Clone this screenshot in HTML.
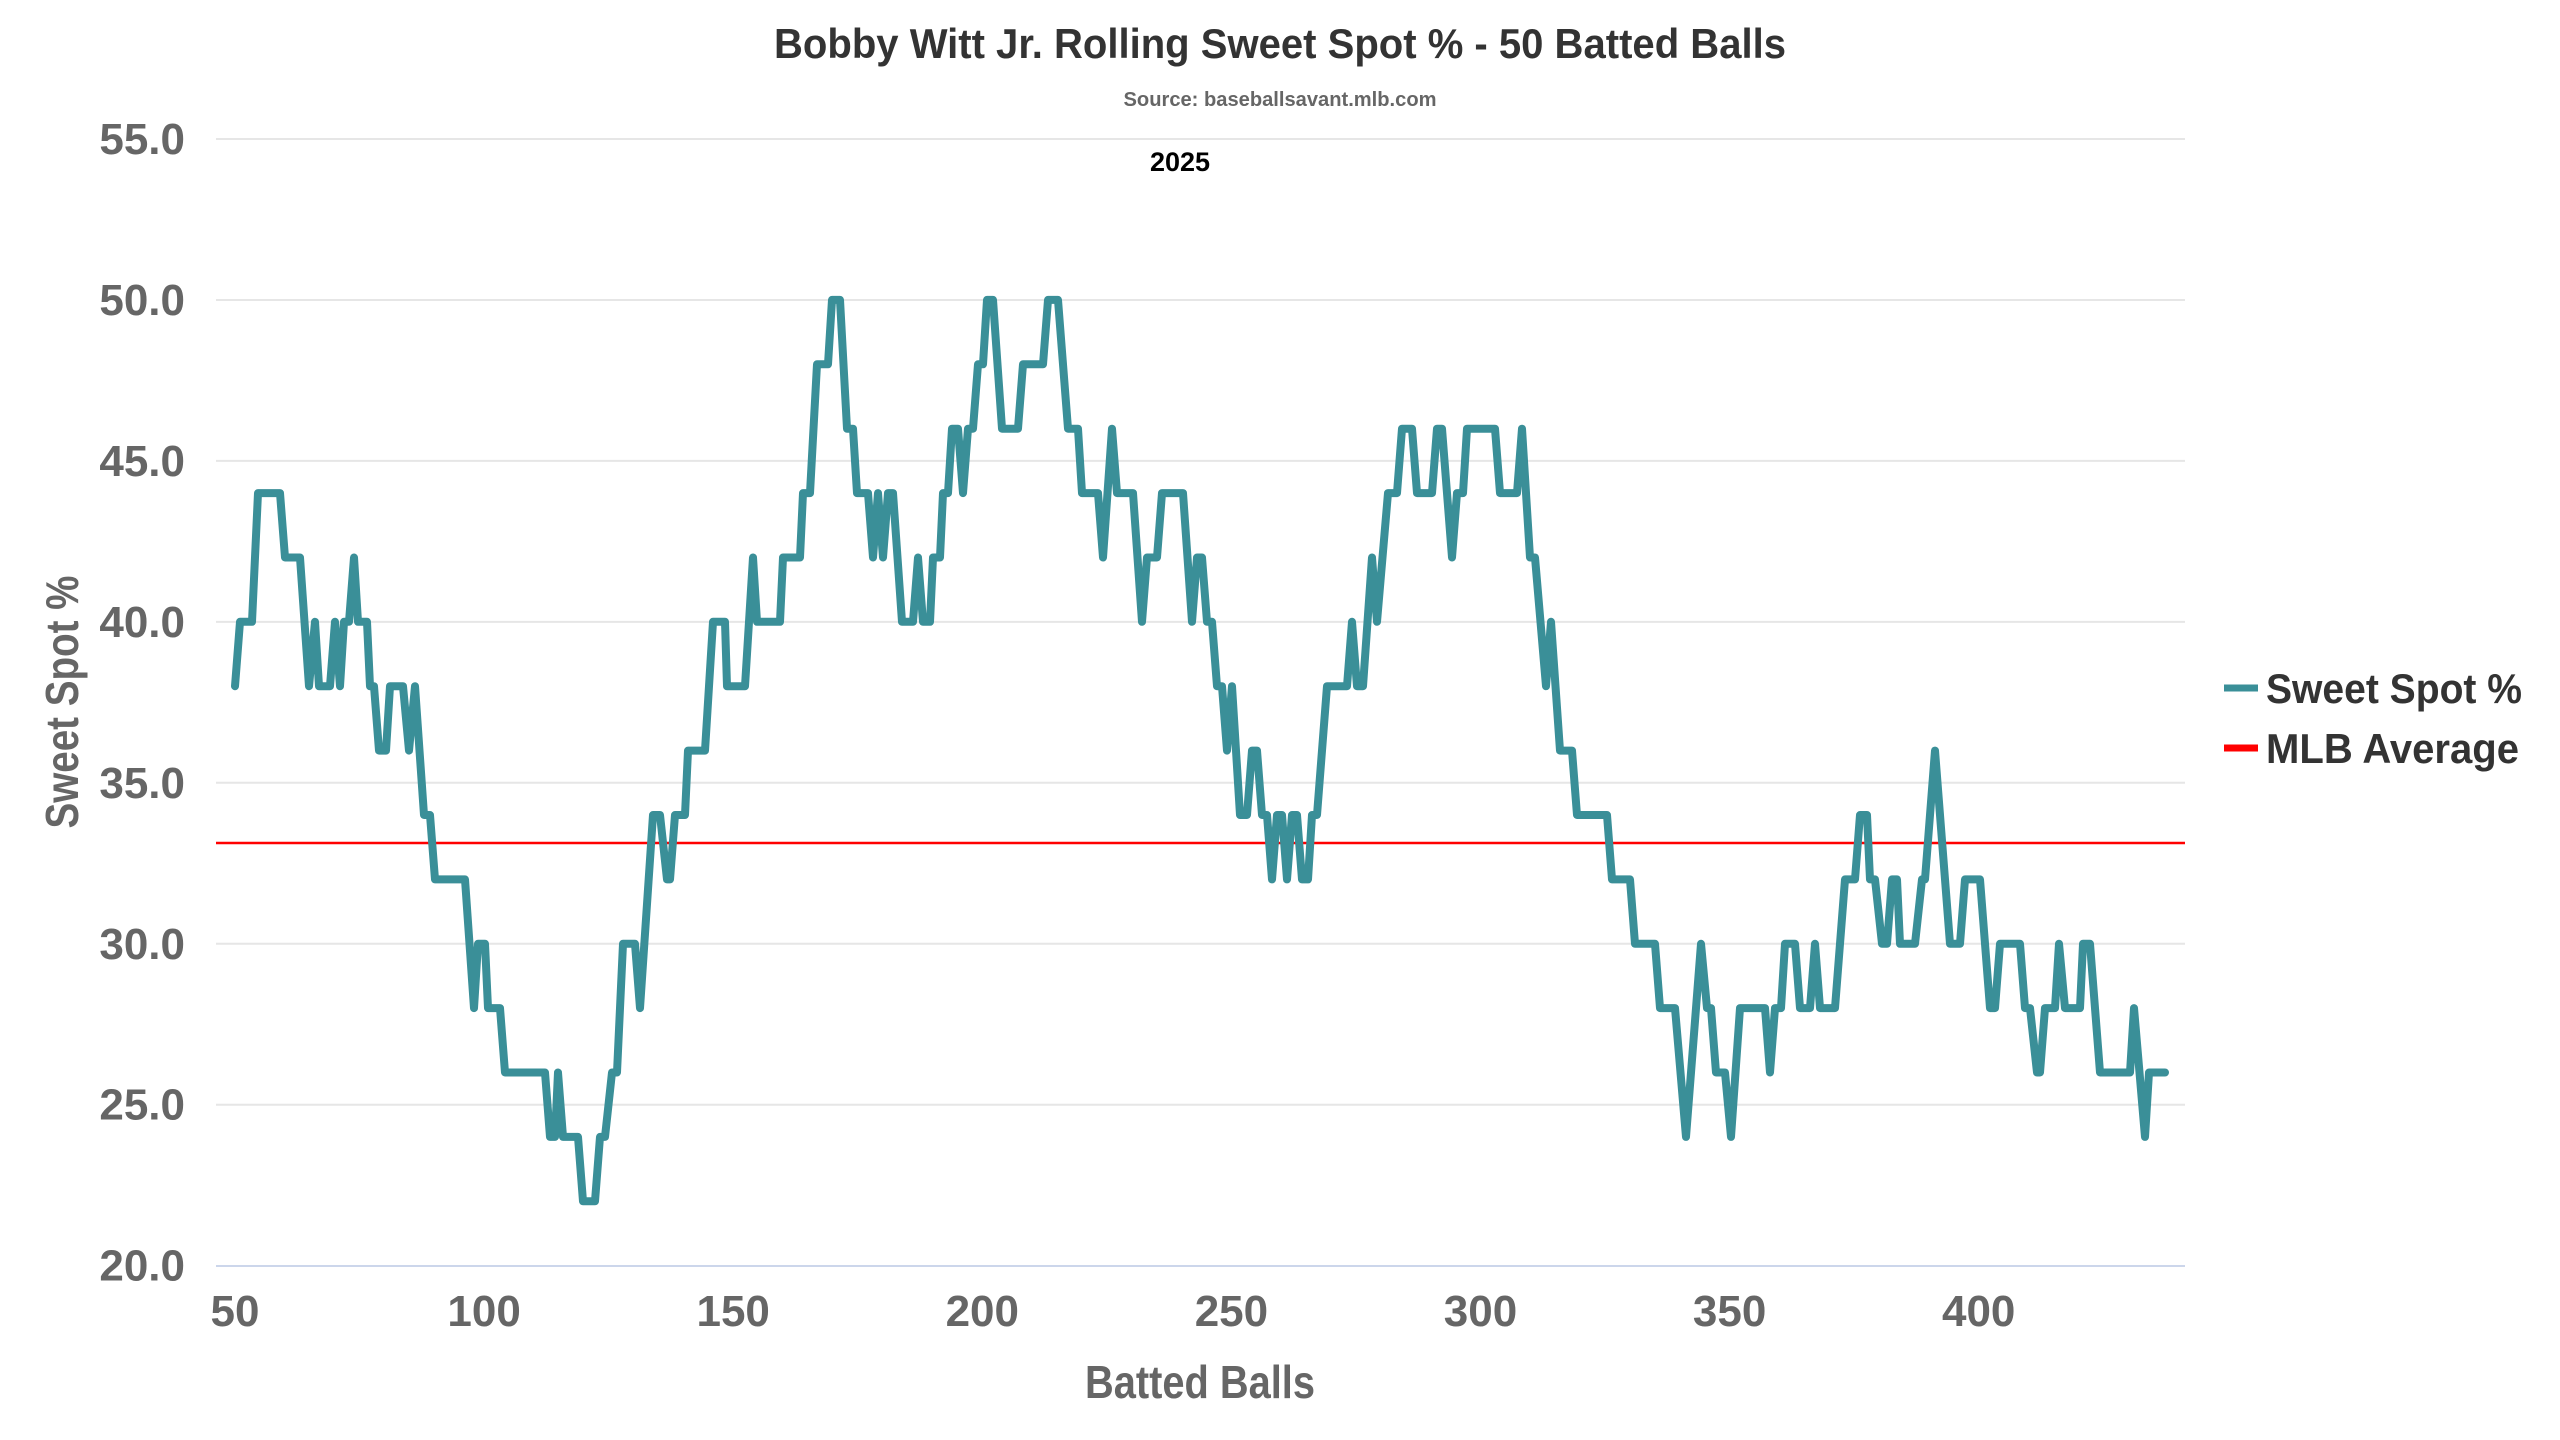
<!DOCTYPE html>
<html><head><meta charset="utf-8">
<style>
html,body{margin:0;padding:0;background:#fff;}
svg{display:block;}
text{font-family:"Liberation Sans Narrow","Liberation Sans",sans-serif;font-weight:bold;}
</style></head>
<body>
<svg id="c" width="2560" height="1440" viewBox="0 0 2560 1440" xmlns="http://www.w3.org/2000/svg">
<rect width="2560" height="1440" fill="#fff"/>
<g id="grid" stroke="#e6e6e6" stroke-width="2"></g>
<line x1="216" y1="1266" x2="2185" y2="1266" stroke="#ccd6eb" stroke-width="2"/>
<g id="yl" fill="#666" font-size="44" text-anchor="end"></g>
<g id="xl" fill="#666" font-size="44" text-anchor="middle"></g>
<line x1="216" y1="843" x2="2185" y2="843" stroke="#ff0000" stroke-width="2.5"/>
<path id="ln" fill="none" stroke="#3a8f98" stroke-width="8" stroke-linejoin="round" stroke-linecap="round"/>
<text x="1280" y="58" font-size="42" fill="#333" text-anchor="middle" textLength="1012" lengthAdjust="spacingAndGlyphs">Bobby Witt Jr. Rolling Sweet Spot % - 50 Batted Balls</text>
<text x="1280" y="106" font-size="20" fill="#666" text-anchor="middle" textLength="313" lengthAdjust="spacingAndGlyphs">Source: baseballsavant.mlb.com</text>
<text x="1180" y="171" font-size="27" fill="#000" text-anchor="middle">2025</text>
<text x="1200" y="1398" font-size="46" fill="#666" text-anchor="middle" textLength="230" lengthAdjust="spacingAndGlyphs">Batted Balls</text>
<text x="0" y="0" font-size="46" fill="#666" text-anchor="middle" transform="translate(78,702) rotate(-90)" textLength="253" lengthAdjust="spacingAndGlyphs">Sweet Spot %</text>
<line x1="2224" y1="688" x2="2258" y2="688" stroke="#3a8f98" stroke-width="7"/>
<text x="2266" y="703" font-size="42" fill="#333" textLength="256" lengthAdjust="spacingAndGlyphs">Sweet Spot %</text>
<line x1="2224" y1="748" x2="2258" y2="748" stroke="#ff0000" stroke-width="7"/>
<text x="2266" y="763" font-size="42" fill="#333" textLength="253" lengthAdjust="spacingAndGlyphs">MLB Average</text>
</svg>
<script>
var NS="http://www.w3.org/2000/svg";
function Y(v){return 139+(55-v)*32.19;}
var g=document.getElementById('grid'),yl=document.getElementById('yl'),xl=document.getElementById('xl');
for(var v=25;v<=55;v+=5){var l=document.createElementNS(NS,'line');l.setAttribute('x1',216);l.setAttribute('x2',2185);l.setAttribute('y1',Y(v));l.setAttribute('y2',Y(v));g.appendChild(l);}
for(var v=20;v<=55;v+=5){var t=document.createElementNS(NS,'text');t.setAttribute('x',185);t.setAttribute('y',Y(v)+15);t.textContent=v.toFixed(1);yl.appendChild(t);}
for(var b=50;b<=400;b+=50){var t=document.createElementNS(NS,'text');t.setAttribute('x',235+(b-50)*4.982);t.setAttribute('y',1326);t.textContent=b;xl.appendChild(t);}
var P=[[235,38],[240,40],[252,40],[258,44],[280,44],[285,42],[300,42],[309,38],[315,40],[319,38],[330,38],[335,40],[340,38],[344,40],[349,40],[354,42],[358,40],[367,40],[370,38],[374,38],[379,36],[386,36],[390,38],[403,38],[409,36],[415,38],[424,34],[430,34],[435,32],[465,32],[474,28],[478,30],[485,30],[488,28],[500,28],[505,26],[545,26],[550,24],[555,24],[558,26],[563,24],[578,24],[583,22],[595,22],[600,24],[605,24],[612,26],[617,26],[623,30],[635,30],[640,28],
[653,34],[660,34],[667,32],[670,32],[675,34],[685,34],[688,36],[705,36],[713,40],[725,40],[727,38],[745,38],[753,42],[757,40],[780,40],[783,42],[800,42],[803,44],[810,44],[817,48],[828,48],[832,50],[840,50],[847,46],[853,46],[857,44],[868,44],[873,42],[878,44],[883,42],[888,44],[893,44],[902,40],[913,40],[918,42],[923,40],[930,40],[933,42],[940,42],[943,44],[948,44],[952,46],[958,46],[963,44],[968,46],[973,46],[978,48],[983,48],[987,50],[993,50],[1002,46],[1018,46],[1023,48],[1040,48],
[1043,48],[1048,50],[1058,50],[1068,46],[1078,46],[1082,44],[1098,44],[1103,42],[1112,46],[1117,44],[1133,44],[1142,40],[1147,42],[1157,42],[1162,44],[1183,44],[1192,40],[1197,42],[1202,42],[1207,40],[1212,40],[1217,38],[1222,38],[1227,36],[1232,38],[1240,34],[1247,34],[1252,36],[1257,36],[1262,34],[1267,34],[1272,32],[1277,34],[1282,34],[1287,32],[1292,34],[1297,34],[1302,32],[1308,32],[1312,34],[1317,34],[1327,38],[1347,38],[1352,40],[1357,38],[1363,38],[1372,42],[1377,40],[1388,44],[1397,44],[1402,46],[1412,46],[1417,44],[1432,44],[1437,46],[1442,46],[1452,42],[1457,44],
[1463,44],[1467,46],[1495,46],[1500,44],[1517,44],[1522,46],[1530,42],[1535,42],[1546,38],[1551,40],[1560,36],[1572,36],[1577,34],[1607,34],[1612,32],[1630,32],[1635,30],[1655,30],[1660,28],[1675,28],[1686,24],[1701,30],[1707,28],[1711,28],[1716,26],[1725,26],[1731,24],[1740,28],[1765,28],[1770,26],[1775,28],[1781,28],[1785,30],[1795,30],
[1800,28],[1810,28],[1815,30],[1820,28],[1835,28],[1845,32],[1855,32],[1860,34],[1867,34],[1870,32],[1875,32],[1882,30],[1887,30],[1892,32],[1897,32],[1900,30],[1915,30],[1922,32],[1925,32],[1935,36],[1950,30],[1960,30],[1965,32],[1980,32],[1990,28],[1995,28],[2000,30],[2020,30],[2025,28],[2030,28],[2037,26],[2040,26],[2045,28],[2055,28],[2059,30],[2065,28],[2080,28],[2083,30],[2090,30],[2100,26],[2130,26],[2134,28],[2145,24],[2149,26],[2165,26]];
var d='';for(var i=0;i<P.length;i++){d+=(i?'L':'M')+P[i][0]+' '+Y(P[i][1]).toFixed(1);}
document.getElementById('ln').setAttribute('d',d);
</script>
</body></html>
